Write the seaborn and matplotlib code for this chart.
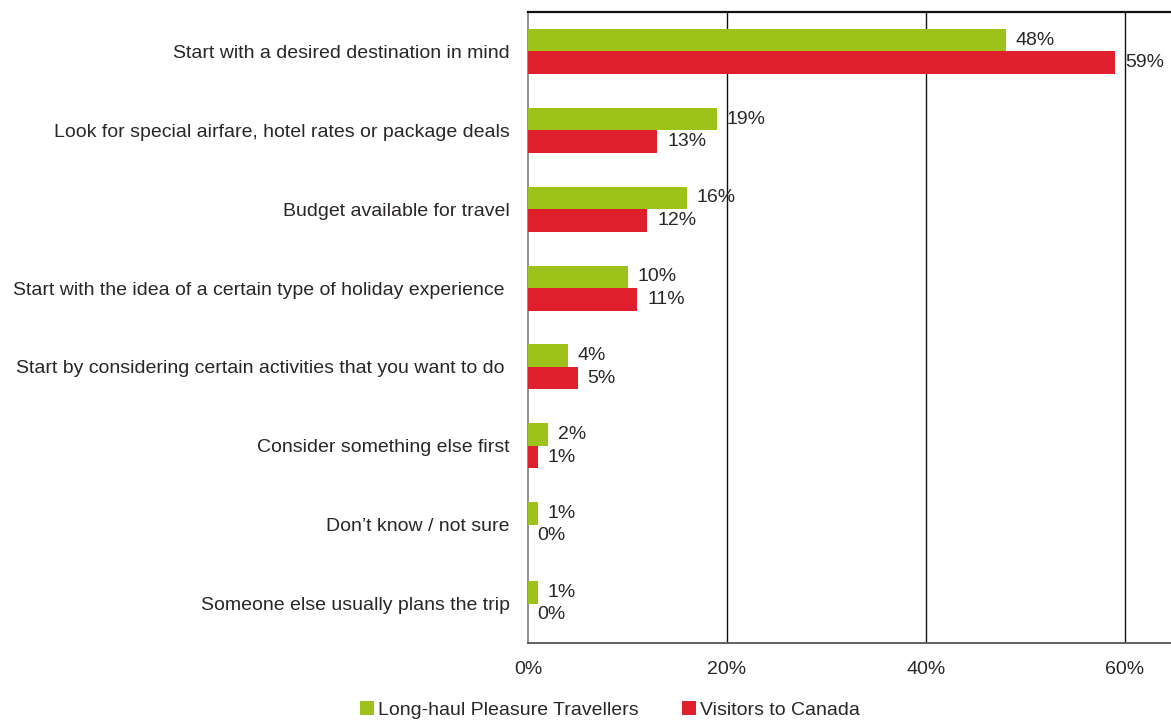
import matplotlib
matplotlib.use("Agg")
import matplotlib.pyplot as plt
import seaborn as sns
import pandas as pd
from matplotlib.ticker import FuncFormatter

categories = [
    "Start with a desired destination in mind",
    "Look for special airfare, hotel rates or package deals",
    "Budget available for travel",
    "Start with the idea of a certain type of holiday experience ",
    "Start by considering certain activities that you want to do ",
    "Consider something else first",
    "Don\u2019t know / not sure",
    "Someone else usually plans the trip",
]
long_haul = [48, 19, 16, 10, 4, 2, 1, 1]
visitors_canada = [59, 13, 12, 11, 5, 1, 0, 0]
series_names = ["Long-haul Pleasure Travellers", "Visitors to Canada"]
x_ticks = [0, 20, 40, 60]

df = pd.DataFrame({
    "category": categories * 2,
    "value": long_haul + visitors_canada,
    "series": [series_names[0]] * len(categories) + [series_names[1]] * len(categories),
})

sns.set_theme(style="white")
plt.rcParams["font.family"] = ["Liberation Sans", "DejaVu Sans"]
text_color = "#2a2627"
fs = 14

fig = plt.figure(figsize=(11.71, 7.21), dpi=100)
ax = fig.add_axes([528 / 1171, 1 - 643 / 721, 1 - 528 / 1171, (643 - 12) / 721])

palette = {series_names[0]: "#9dc21a", series_names[1]: "#e01f2d"}
sns.barplot(data=df, y="category", x="value", hue="series", order=categories,
            hue_order=series_names, palette=palette, orient="h", width=0.57,
            saturation=1, linewidth=0, ax=ax, legend=True, zorder=3)

ax.set_xlim(0, (1171 - 528) / 9.95)
ax.set_xticks(x_ticks)
ax.xaxis.set_major_formatter(FuncFormatter(lambda v, p: f"{v:.0f}%"))
ax.set_xlabel("")
ax.set_ylabel("")
ax.tick_params(axis="x", length=0, pad=13, labelsize=fs, labelcolor=text_color)
ax.tick_params(axis="y", length=0, pad=13, labelsize=fs, labelcolor=text_color)

for xv in x_ticks[1:]:
    ax.axvline(xv, color="#111111", lw=1.0, zorder=1)

for side in ["top", "bottom", "left"]:
    ax.spines[side].set_visible(True)
ax.spines["right"].set_visible(False)
ax.spines["top"].set_color("#111111")
ax.spines["top"].set_linewidth(1.6)
ax.spines["bottom"].set_color("#555555")
ax.spines["bottom"].set_linewidth(1.3)
ax.spines["left"].set_color("#888888")
ax.spines["left"].set_linewidth(1.3)

for container in ax.containers:
    ax.bar_label(container, labels=[f"{w:.0f}%" for w in container.datavalues],
                 padding=7, fontsize=fs, color=text_color, zorder=4)

handles, labels = ax.get_legend_handles_labels()
ax.legend_.remove()
fig.legend(handles, labels, loc="center", bbox_to_anchor=(610 / 1171, 1 - 710 / 721),
           ncol=2, frameon=False, fontsize=fs, handlelength=0.75, handleheight=0.75,
           handletextpad=0.2, columnspacing=2.2, labelcolor=text_color)

fig.savefig("out.png", dpi=100)
